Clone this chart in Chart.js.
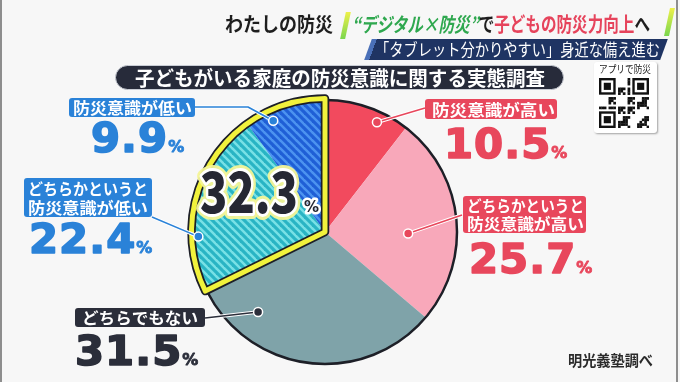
<!DOCTYPE html>
<html><head><meta charset="utf-8">
<script src="https://cdn.jsdelivr.net/npm/chart.js@4.4.1/dist/chart.umd.min.js"></script>
<style>
html,body{margin:0;padding:0;}
body{width:680px;height:382px;overflow:hidden;background:#f7f7f7;position:relative;font-family:"Noto Sans CJK JP","Noto Sans",sans-serif;}
#c{position:absolute;left:0;top:0;}
.t{position:absolute;white-space:nowrap;transform-origin:0 0;line-height:1;font-weight:bold;}
.frame{position:absolute;top:0;width:2px;height:382px;background:#8e8e8e;}
.bar{position:absolute;width:5px;background:linear-gradient(#eef04a,#7ad64e);transform:skewX(-12deg);}
#banner{position:absolute;left:368px;top:39px;width:296px;height:21px;background:linear-gradient(90deg,#4a70b8 0,#4a70b8 5px,#1f3463 5px);transform:skewX(-20deg);}
#pill{position:absolute;left:115px;top:65px;width:447px;height:23px;background:#272b3a;border:1.5px solid #c8ccd4;border-radius:14px;}
#qr{position:absolute;left:594px;top:62px;width:63px;height:71px;background:#fff;border-radius:3px;box-shadow:1px 1px 2px rgba(0,0,0,0.35);}
</style></head>
<body>
<canvas id="c" width="680" height="382"></canvas>
<div class="frame" style="left:0"></div>
<div class="frame" style="left:676px"></div>

<div class="t" id="h1a" data-w="108" style="left:225px;top:14px;font-size:20px;color:#1e1e1e;">わたしの防災</div>
<div class="bar" style="left:343px;top:12px;height:27px;"></div>
<div class="t" id="h1b" data-w="298" style="left:352px;top:14px;font-size:20px;color:#1e1e1e;"><span style="color:#2fa84f;font-style:italic">“デジタル×防災”</span>で<span style="color:#e6445c">子どもの防災力向上</span>へ</div>
<div class="bar" style="left:667px;top:8px;height:28px;"></div>
<div id="banner"></div>
<div class="t" id="h2" data-w="285" style="left:375px;top:41px;font-size:16.5px;color:#fff;font-weight:normal;">「タブレット分かりやすい」身近な備え進む</div>
<div id="pill"></div>
<div class="t" id="ttl" data-w="410" style="left:135px;top:68px;font-size:20px;color:#fff;">子どもがいる家庭の防災意識に関する実態調査</div>
<div id="qr"></div>
<div class="t" id="qrt" data-w="52" style="left:599px;top:64px;font-size:10.5px;color:#222;font-weight:normal;">アプリで防災</div>
<canvas id="qrc" width="50" height="50" style="position:absolute;left:599px;top:78px;"></canvas>
<div class="t" id="src" data-w="85" style="left:568px;top:352px;font-size:15px;color:#2a2a2a;">明光義塾調べ</div>

<script>
// ---- data ----
const categories = ['防災意識が高い', 'どちらかというと\n防災意識が高い', 'どちらでもない', 'どちらかというと\n防災意識が低い', '防災意識が低い'];
const values = [10.5, 25.7, 31.5, 22.4, 9.9];
const highlighted = [3, 4];
const unit = '%';

// ---- styles / layout ----
const sliceColors = ['#f24a5e', '#f8a8ba', '#7fa3a9'];
const labelColors = ['#e8475c', '#e8475c', '#2b2e3a', '#2a82d8', '#2a82d8'];
const layoutCfg = [
  {box:[425,99,132,20], lines:[[432,116]], tw:123, fs:16, val:[444,158], anchors:[[425,108]], dot:[0.67,0.92]},
  {box:[463,196,123,37], lines:[[467,212],[467,230]], tw:117, fs:15.5, val:[469,273], anchors:[[462,215]], dot:[0.575,0.63]},
  {box:[75,308,130,19], lines:[[82,324]], tw:116, fs:16, val:[75,365], anchors:[[205,318]], dot:[0.79,0.79]},
  {box:[24,178,128,39], lines:[[28,195],[28,214]], tw:120, fs:15.5, val:[29,253], anchors:[[152,217]], dot:[0.30,0.96]},
  {box:[69,98,126,19], lines:[[73,114]], tw:119, fs:16, val:[91,152], anchors:[[195,107],[248,107]], dot:[0.30,0.93]}
];

// fit html text widths
document.querySelectorAll('.t[data-w]').forEach(el => {
  const w = el.getBoundingClientRect().width;
  el.style.transform = 'scaleX(' + (parseFloat(el.dataset.w) / w) + ')';
});

// QR decoration
(function(){
  const q = document.getElementById('qrc').getContext('2d');
  const n = 21, m = 50 / n;
  q.fillStyle = '#fff'; q.fillRect(0,0,50,50);
  q.fillStyle = '#111';
  const finder = (x,y) => {
    q.fillRect(x*m,y*m,7*m,7*m); q.fillStyle='#fff'; q.fillRect((x+1)*m,(y+1)*m,5*m,5*m);
    q.fillStyle='#111'; q.fillRect((x+2)*m,(y+2)*m,3*m,3*m);
  };
  for (let i=0;i<n;i++) for (let j=0;j<n;j++) {
    if ((i<8&&j<8)||(i>12&&j<8)||(i<8&&j>12)) continue;
    const h = (i*31 + j*17 + i*j*7 + (i^j)*3) % 7;
    if (h < 3) q.fillRect(i*m, j*m, m+0.3, m+0.3);
  }
  finder(0,0); finder(14,0); finder(0,14);
})();

const canvas = document.getElementById('c');
const ctx = canvas.getContext('2d');

function stripe(bg, fg){
  const s = 8, c = document.createElement('canvas');
  c.width = s; c.height = s;
  const g = c.getContext('2d');
  g.fillStyle = bg; g.fillRect(0,0,s,s);
  g.strokeStyle = fg; g.lineWidth = 3.2;
  for (const k of [-s,0,s]) { g.beginPath(); g.moveTo(k-2,-2); g.lineTo(k+s+2,s+2); g.stroke(); }
  return ctx.createPattern(c,'repeat');
}
const bgColors = sliceColors.concat([stripe('#78e1e6','#29b4c4'), stripe('#4c93f0','#1f5fd6')]);

function fitText(c, text, x, y, w){
  const mw = c.measureText(text).width;
  c.save(); c.translate(x,y); c.scale(w/mw,1); c.fillText(text,0,0); c.restore();
}
function roundRect(c,x,y,w,h,r){
  c.beginPath(); c.moveTo(x+r,y); c.lineTo(x+w-r,y); c.quadraticCurveTo(x+w,y,x+w,y+r);
  c.lineTo(x+w,y+h-r); c.quadraticCurveTo(x+w,y+h,x+w-r,y+h); c.lineTo(x+r,y+h);
  c.quadraticCurveTo(x,y+h,x,y+h-r); c.lineTo(x,y+r); c.quadraticCurveTo(x,y,x+r,y); c.closePath();
}

const labelPlugin = {
  id: 'pieLabels',
  afterDatasetsDraw(chart){
    const c = chart.ctx;
    const arcs = chart.getDatasetMeta(0).data;
    const cx = arcs[0].x, cy = arcs[0].y, r = arcs[0].outerRadius;
    c.save();
    // outline of the pie
    c.beginPath(); c.arc(cx,cy,r,0,Math.PI*2);
    c.lineWidth = 2.5; c.strokeStyle = '#1d1f27'; c.stroke();
    // highlighted group outline
    const s = arcs[highlighted[0]].startAngle, e = arcs[highlighted[highlighted.length-1]].endAngle;
    c.beginPath(); c.moveTo(cx,cy); c.arc(cx,cy,r+1.5,s,e); c.closePath();
    c.lineJoin = 'round';
    c.lineWidth = 8.5; c.strokeStyle = '#1d1f27'; c.stroke();
    c.lineWidth = 5; c.strokeStyle = '#f1f23c'; c.stroke();

    // leader lines, dots, boxes, values
    values.forEach((v,i) => {
      const L = layoutCfg[i], a = arcs[i], col = labelColors[i];
      const ang = a.startAngle + L.dot[0]*(a.endAngle - a.startAngle);
      const dx = cx + Math.cos(ang)*r*L.dot[1], dy = cy + Math.sin(ang)*r*L.dot[1];
      c.beginPath();
      c.moveTo(L.anchors[0][0], L.anchors[0][1]);
      for (let k=1;k<L.anchors.length;k++) c.lineTo(L.anchors[k][0], L.anchors[k][1]);
      c.lineTo(dx,dy);
      c.lineJoin='round';
      c.lineWidth = 3.5; c.strokeStyle = '#ffffff'; c.stroke();
      c.lineWidth = 1.6; c.strokeStyle = col; c.stroke();
      c.beginPath(); c.arc(dx,dy,4.5,0,Math.PI*2);
      c.fillStyle = col; c.fill(); c.lineWidth = 1.5; c.strokeStyle = '#fff'; c.stroke();

      // box
      const [bx,by,bw,bh] = L.box;
      roundRect(c,bx,by,bw,bh,3); c.fillStyle = col; c.fill();
      c.fillStyle = '#fff';
      c.font = 'bold ' + L.fs + 'px "Noto Sans CJK JP"';
      c.textBaseline = 'alphabetic';
      categories[i].split('\n').forEach((ln,k) => fitText(c, ln, L.lines[k][0], L.lines[k][1], L.tw));

      // value
      c.fillStyle = col; c.strokeStyle = col; c.lineWidth = 1.6; c.lineJoin = 'round';
      c.font = 'bold 41px "DejaVu Sans"';
      c.letterSpacing = '1px';
      const txt = v.toFixed(1);
      const w = c.measureText(txt).width;
      c.save(); c.translate(L.val[0], L.val[1]); c.scale(1.02,1); c.strokeText(txt,0,0); c.fillText(txt,0,0); c.restore();
      c.letterSpacing = '0px';
      c.font = 'bold 16px "DejaVu Sans"';
      c.lineWidth = 0.8;
      c.strokeText(unit, L.val[0] + w*1.02, L.val[1]);
      c.fillText(unit, L.val[0] + w*1.02, L.val[1]);
    });

    // total of highlighted group
    const total = highlighted.reduce((sum,i) => sum + values[i], 0);
    const tt = total.toFixed(1);
    c.font = '900 56px "Noto Sans CJK JP"';
    c.lineJoin = 'round';
    const tw = 98, mw = c.measureText(tt).width;
    c.save(); c.translate(200,213); c.scale(tw/mw,1);
    c.lineWidth = 12; c.strokeStyle = 'rgba(244,244,150,0.95)'; c.strokeText(tt,0,0);
    c.lineWidth = 6; c.strokeStyle = '#ffffff'; c.strokeText(tt,0,0);
    c.fillStyle = '#252733'; c.fillText(tt,0,0);
    c.restore();
    c.font = 'bold 15px "DejaVu Sans"';
    c.lineWidth = 5; c.strokeStyle = '#ffffff'; c.strokeText(unit,304,212);
    c.fillStyle = '#252733'; c.fillText(unit,304,212);
    c.restore();
  }
};

new Chart(ctx, {
  type: 'pie',
  data: { labels: categories, datasets: [{ data: values, backgroundColor: bgColors, borderWidth: 0, hoverOffset: 0 }] },
  options: {
    responsive: false, animation: false, devicePixelRatio: 1, events: [],
    layout: { padding: { top: 100, bottom: 18, left: 193, right: 223 } },
    plugins: { legend: { display: false }, tooltip: { enabled: false }, title: { display: false } }
  },
  plugins: [labelPlugin]
});
</script>
</body></html>
